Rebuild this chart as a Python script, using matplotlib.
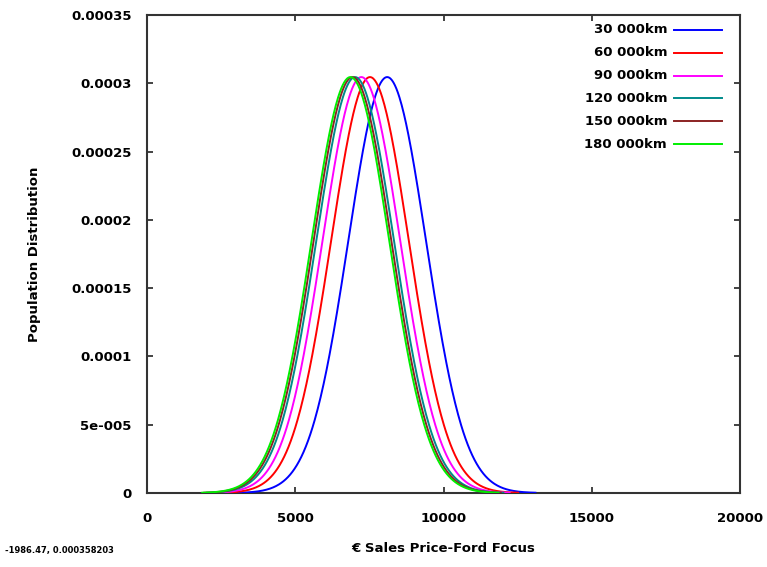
import numpy as np
import matplotlib
matplotlib.use("Agg")
import matplotlib.pyplot as plt
from matplotlib.lines import Line2D

# mileage groups, fitted normal price distributions (EUR)
labels = ["30 000km", "60 000km", "90 000km", "120 000km", "150 000km", "180 000km"]
means = [8100, 7520, 7230, 7020, 6930, 6860]
sigmas = [1310, 1310, 1310, 1310, 1310, 1310]
colors = ["#0000ff", "#ff0000", "#ff00ff", "#008b8b", "#8b2323", "#00ee00"]
span = 5000  # each curve is drawn over mean +/- span

xticks = [0, 5000, 10000, 15000, 20000]
yticks = [0, 0.00005, 0.0001, 0.00015, 0.0002, 0.00025, 0.0003, 0.00035]
yticklabels = ["0", "5e-005", "0.0001", "0.00015", "0.0002", "0.00025", "0.0003", "0.00035"]

plt.rcParams["font.family"] = "DejaVu Sans"
plt.rcParams["font.weight"] = "bold"
plt.rcParams["axes.labelweight"] = "bold"

fig = plt.figure(figsize=(7.67, 5.67), dpi=100)
ax = fig.add_axes([147 / 767, 74 / 567, 593 / 767, 478 / 567])

for mu, sd, col in zip(means, sigmas, colors):
    x = np.linspace(mu - span, mu + span, 400)
    y = np.exp(-0.5 * ((x - mu) / sd) ** 2) / (sd * np.sqrt(2 * np.pi))
    ax.plot(x, y, color=col, lw=1.4, zorder=3)

ax.set_xlim(0, 20000)
ax.set_ylim(0, 0.00035)
ax.set_xticks(xticks)
ax.set_xticklabels([str(t) for t in xticks])
ax.set_yticks(yticks)
ax.set_yticklabels(yticklabels)
ax.tick_params(direction="in", length=4, width=1.2, top=True, right=True,
               labelsize=9.5, colors="#222222", labelcolor="black")
ax.tick_params(axis="x", pad=14)
ax.tick_params(axis="y", pad=11)
for sp in ax.spines.values():
    sp.set_linewidth(1.5)
    sp.set_color("#333333")

ax.set_xlabel("€ Sales Price-Ford Focus", fontsize=9.5, labelpad=12)
ax.set_ylabel("Population Distribution", fontsize=9.5, labelpad=22)

# key with right-aligned labels and the sample line to their right
for i, (lab, col) in enumerate(zip(labels, colors)):
    yk = 0.969 - i * 0.0478
    ax.text(0.877, yk, lab, transform=ax.transAxes, ha="right", va="center", fontsize=9.5)
    ax.add_line(Line2D([0.889, 0.970], [yk, yk], transform=ax.transAxes, color=col, lw=1.4))

fig.text(5 / 767, 1 - 551 / 567, "-1986.47, 0.000358203", fontsize=6,
         va="center", ha="left")

fig.savefig("out.png", dpi=100)
